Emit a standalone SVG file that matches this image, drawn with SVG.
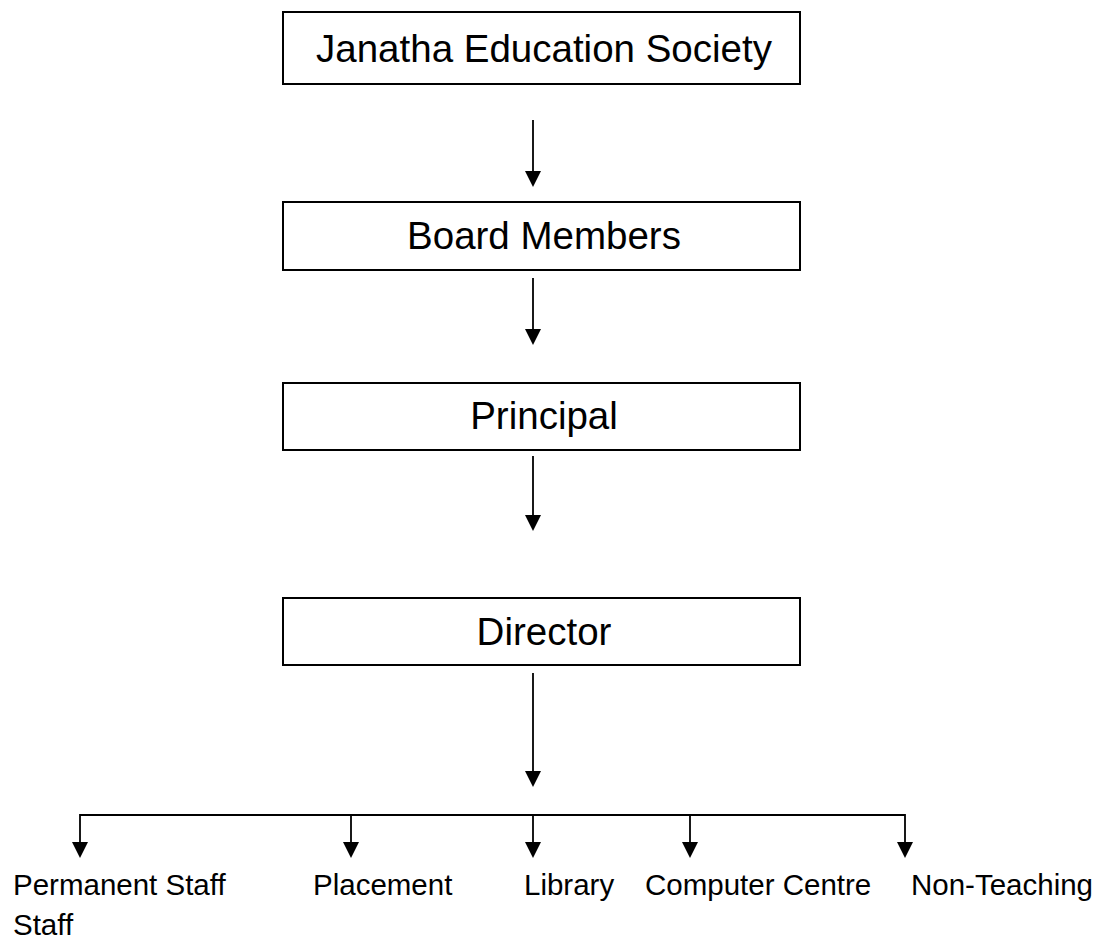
<svg xmlns="http://www.w3.org/2000/svg" width="1114" height="942" viewBox="0 0 1114 942">
<style>
.box{fill:#fff;stroke:#000;stroke-width:2}
.t{font-family:"Liberation Sans",Arial,sans-serif;font-size:38.5px;fill:#000;text-anchor:middle}
.l{font-family:"Liberation Sans",Arial,sans-serif;font-size:29.5px;fill:#000}
.c{fill:none;stroke:#000;stroke-width:1.8}
</style>
<rect width="1114" height="942" fill="#fff"/>
<g id="connectors">
<line class="c" x1="533" y1="120" x2="533" y2="180"/>
<line class="c" x1="533" y1="278" x2="533" y2="338"/>
<line class="c" x1="533" y1="456" x2="533" y2="524"/>
<line class="c" x1="533" y1="673" x2="533" y2="780"/>
<polyline class="c" points="80,850 80,815 905,815 905,850"/>
<line class="c" x1="351" y1="815" x2="351" y2="850"/>
<line class="c" x1="533" y1="815" x2="533" y2="850"/>
<line class="c" x1="690" y1="815" x2="690" y2="850"/>
<g fill="#000">
<path d="M525,171 L541,171 L533,187 Z"/>
<path d="M525,329 L541,329 L533,345 Z"/>
<path d="M525,515 L541,515 L533,531 Z"/>
<path d="M525,771 L541,771 L533,787 Z"/>
<path d="M72,842 L88,842 L80,858 Z"/>
<path d="M343,842 L359,842 L351,858 Z"/>
<path d="M525,842 L541,842 L533,858 Z"/>
<path d="M682,842 L698,842 L690,858 Z"/>
<path d="M897,842 L913,842 L905,858 Z"/>
</g>
</g>
<g id="n-society"><rect class="box" x="283" y="12" width="517" height="72"/><text class="t" x="544" y="62">Janatha Education Society</text></g>
<g id="n-board"><rect class="box" x="283" y="202" width="517" height="68"/><text class="t" x="544" y="249">Board Members</text></g>
<g id="n-principal"><rect class="box" x="283" y="383" width="517" height="67"/><text class="t" x="544" y="429">Principal</text></g>
<g id="n-director"><rect class="box" x="283" y="598" width="517" height="67"/><text class="t" x="544" y="645">Director</text></g>
<g id="n-permanent"><text class="l" x="13" y="895">Permanent Staff</text><text class="l" x="13" y="935">Staff</text></g>
<g id="n-placement"><text class="l" x="313" y="895">Placement</text></g>
<g id="n-library"><text class="l" x="524" y="895">Library</text></g>
<g id="n-computer"><text class="l" x="645" y="895">Computer Centre</text></g>
<g id="n-nonteaching"><text class="l" x="911" y="895">Non-Teaching</text></g>
</svg>
